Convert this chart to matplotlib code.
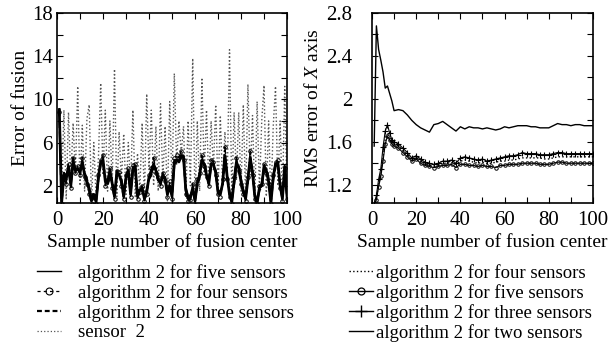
"""
Fusion error (left) and RMS error of X axis (right) vs sample number of fusion center
"""

import numpy as np
import matplotlib
matplotlib.use('Agg')
import matplotlib.pyplot as plt
from matplotlib.lines import Line2D
from matplotlib.ticker import MultipleLocator, FixedLocator, FixedFormatter

plt.rcParams['font.family'] = ['Liberation Serif', 'DejaVu Serif']
plt.rcParams['mathtext.fontset'] = 'custom'
plt.rcParams['mathtext.it'] = 'Liberation Serif:italic'
plt.rcParams['mathtext.rm'] = 'Liberation Serif'

# ---- left panel data: error of fusion, samples 1..100 ----
samples_left = np.arange(1, 101)

err_five = [9.0, 0.4, 3.0, 2.6, 3.8, 2.0, 4.3, 3.4, 3.6, 3.2,
            4.2, 3.0, 2.4, 1.6, 0.6, 1.2, 0.5, 2.8, 4.2, 4.4,
            2.4, 2.2, 3.4, 2.2, 1.0, 3.2, 3.0, 2.4, 1.0, 2.8,
            3.4, 1.2, 3.6, 3.8, 1.0, 1.6, 1.8, 0.8, 1.4, 2.8,
            3.2, 4.0, 3.4, 2.6, 2.2, 3.0, 2.6, 1.2, 2.0, 1.0,
            4.2, 4.4, 4.2, 4.8, 4.6, 1.6, 0.8, 0.9, 1.8, 0.6,
            2.2, 3.0, 4.4, 4.0, 3.0, 2.2, 4.0, 4.0, 3.2, 1.4,
            1.2, 2.2, 4.8, 2.8, 1.2, 0.5, 2.4, 4.2, 3.6, 2.4,
            1.4, 0.8, 2.6, 4.6, 3.2, 1.0, 0.4, 1.8, 2.0, 3.8,
            3.4, 2.4, 0.4, 2.8, 4.0, 4.2, 2.0, 0.8, 3.8, 1.0]

err_four = [8.8, 0.3, 2.6, 2.2, 4.0, 1.8, 4.6, 3.2, 3.8, 3.0,
            4.6, 2.8, 2.2, 1.2, 0.3, 1.0, 0.3, 3.0, 4.4, 4.8,
            2.0, 2.6, 3.6, 1.8, 0.8, 3.4, 3.3, 2.0, 0.8, 3.0,
            3.6, 1.0, 3.9, 4.0, 0.8, 1.4, 2.0, 0.6, 1.2, 3.0,
            3.6, 4.6, 3.2, 2.8, 2.0, 3.2, 2.4, 1.0, 2.4, 0.8,
            4.6, 4.8, 4.6, 5.2, 4.4, 1.2, 0.6, 0.7, 2.2, 0.2,
            2.6, 3.2, 4.8, 3.8, 2.8, 2.0, 4.4, 4.2, 3.0, 1.2,
            1.0, 2.6, 5.6, 2.6, 1.0, 0.3, 2.8, 4.6, 3.4, 2.2,
            1.2, 0.6, 2.8, 5.2, 3.0, 0.8, 0.3, 2.0, 2.2, 4.0,
            3.2, 2.2, 0.3, 3.0, 4.2, 4.4, 1.8, 0.6, 3.6, 0.8]

err_three = [9.2, 0.5, 3.2, 2.8, 3.6, 2.2, 4.1, 3.6, 3.5, 3.4,
             4.0, 3.2, 2.6, 1.8, 0.8, 1.4, 0.7, 2.6, 4.0, 4.2,
             2.6, 2.0, 3.2, 2.4, 1.2, 3.0, 2.8, 2.6, 1.2, 2.6,
             3.2, 1.4, 3.4, 3.6, 1.2, 1.8, 1.6, 1.0, 1.6, 2.6,
             3.0, 3.8, 3.6, 2.4, 2.4, 2.8, 2.8, 1.4, 1.8, 1.2,
             4.0, 4.2, 4.4, 4.6, 4.8, 1.8, 1.0, 1.1, 1.6, 0.8,
             2.0, 2.8, 4.2, 4.2, 3.2, 2.4, 3.8, 3.8, 3.4, 1.6,
             1.4, 2.0, 4.6, 3.0, 1.4, 0.7, 2.2, 4.0, 3.8, 2.6,
             1.6, 1.0, 2.4, 4.4, 3.4, 1.2, 0.6, 1.6, 1.8, 3.6,
             3.6, 2.6, 0.6, 2.6, 3.8, 4.0, 2.2, 1.0, 3.4, 1.2]

err_sensor2 = [9.0, 1.0, 9.0, 0.8, 8.8, 2.5, 7.8, 3.0, 11.2, 2.0,
               7.6, 1.5, 8.2, 9.5, 0.5, 6.0, 0.8, 4.5, 11.5, 3.0,
               9.0, 1.5, 8.0, 2.0, 12.8, 1.0, 7.0, 2.5, 6.8, 1.2,
               6.0, 2.0, 9.0, 1.0, 5.0, 1.5, 7.8, 0.8, 10.5, 3.5,
               9.0, 2.0, 7.5, 1.5, 9.6, 2.5, 7.5, 0.6, 9.8, 2.0,
               12.4, 4.0, 8.0, 5.0, 7.5, 1.0, 8.0, 2.0, 13.8, 0.5,
               8.0, 1.5, 12.0, 3.0, 9.0, 2.0, 8.0, 3.5, 9.5, 1.5,
               8.5, 2.0, 7.0, 2.5, 14.6, 1.0, 8.8, 2.5, 8.8, 1.5,
               9.5, 0.8, 11.4, 3.0, 8.5, 0.6, 9.8, 1.5, 8.0, 11.3,
               1.0, 8.0, 0.5, 7.5, 11.2, 2.0, 8.0, 0.6, 11.2, 1.0]

# ---- right panel data: RMS error of X axis ----
samples_right = [1, 2, 3, 4, 5, 6, 7, 8, 9, 10,
                 12, 14, 16, 18, 20, 22, 24, 26, 28, 30,
                 32, 34, 36, 38, 40, 42, 44, 46, 48, 50,
                 52, 54, 56, 58, 60, 62, 64, 66, 68, 70,
                 72, 74, 76, 78, 80, 82, 84, 86, 88, 90,
                 92, 94, 96, 98, 100]

rms_two = [1.56, 2.68, 2.46, 2.36, 2.25, 2.10, 2.12, 2.05, 1.98, 1.89,
           1.90, 1.89, 1.85, 1.80, 1.76, 1.73, 1.71, 1.69, 1.76, 1.77,
           1.79, 1.76, 1.73, 1.70, 1.74, 1.72, 1.74, 1.73, 1.73, 1.72,
           1.73, 1.72, 1.71, 1.72, 1.74, 1.73, 1.74, 1.75, 1.75, 1.75,
           1.74, 1.74, 1.73, 1.73, 1.73, 1.75, 1.77, 1.76, 1.76, 1.75,
           1.76, 1.76, 1.75, 1.75, 1.75]

rms_three = [1.02, 1.10, 1.25, 1.35, 1.55, 1.70, 1.76, 1.68, 1.62, 1.60,
             1.58, 1.54, 1.50, 1.45, 1.47, 1.44, 1.41, 1.40, 1.39, 1.40,
             1.42, 1.42, 1.43, 1.40, 1.45, 1.46, 1.45, 1.44, 1.43, 1.44,
             1.42, 1.43, 1.44, 1.45, 1.46, 1.47, 1.47, 1.48, 1.50, 1.49,
             1.49, 1.49, 1.48, 1.48, 1.48, 1.49, 1.50, 1.50, 1.49, 1.49,
             1.49, 1.49, 1.49, 1.49, 1.49]

rms_four = [1.00, 1.08, 1.20, 1.30, 1.45, 1.62, 1.67, 1.64, 1.60, 1.58,
            1.56, 1.52, 1.48, 1.44, 1.45, 1.42, 1.40, 1.38, 1.38, 1.39,
            1.40, 1.40, 1.41, 1.39, 1.42, 1.43, 1.42, 1.41, 1.40, 1.41,
            1.40, 1.40, 1.41, 1.42, 1.42, 1.43, 1.43, 1.44, 1.45, 1.45,
            1.45, 1.45, 1.45, 1.44, 1.44, 1.45, 1.46, 1.46, 1.46, 1.46,
            1.46, 1.46, 1.46, 1.46, 1.46]

rms_five = [1.00, 1.06, 1.18, 1.28, 1.42, 1.58, 1.65, 1.62, 1.58, 1.56,
            1.54, 1.50, 1.46, 1.42, 1.44, 1.40, 1.38, 1.37, 1.36, 1.37,
            1.38, 1.38, 1.39, 1.36, 1.39, 1.39, 1.38, 1.38, 1.37, 1.38,
            1.37, 1.37, 1.36, 1.38, 1.38, 1.39, 1.39, 1.39, 1.40, 1.40,
            1.40, 1.40, 1.39, 1.39, 1.39, 1.40, 1.41, 1.41, 1.40, 1.40,
            1.40, 1.40, 1.40, 1.40, 1.40]

left_ticks = [2, 6, 10, 14, 18]
right_ticks = [1.2, 1.6, 2.0, 2.4, 2.8]
right_tick_labels = ['1.2', '1.6', '2', '2.4', '2.8']

TICK_FS = 15
LABEL_FS = 14
LEG_FS = 13.5

fig = plt.figure(figsize=(6.09, 3.54), dpi=100)
ax1 = fig.add_axes([0.0936, 0.4266, 0.3777, 0.5367])
ax2 = fig.add_axes([0.6108, 0.4266, 0.3629, 0.5367])

# Left panel
ax1.plot(samples_left, err_sensor2, linestyle=':', color='#555555', linewidth=1.0, zorder=1)
ax1.plot(samples_left, err_three, linestyle='--', color='black', linewidth=1.6, zorder=2)
ax1.plot(samples_left, err_four, linestyle='-.', color='black', linewidth=1.0,
         marker='o', markersize=2.5, markerfacecolor='none', markeredgewidth=0.7, zorder=3)
ax1.plot(samples_left, err_five, linestyle='-', color='black', linewidth=2.0, zorder=4)
ax1.set_xlim(0, 100)
ax1.set_ylim(0.4, 18)
ax1.yaxis.set_major_locator(FixedLocator(left_ticks))
ax1.yaxis.set_minor_locator(FixedLocator([4, 8, 12, 16]))
ax1.tick_params(axis='y', which='major', pad=3)
ax1.set_ylabel('Error of fusion', fontsize=LABEL_FS, labelpad=2)

# Right panel
ax2.plot(samples_right, rms_two, linestyle='-', color='black', linewidth=1.0)
ax2.plot(samples_right, rms_three, linestyle='-', color='black', linewidth=0.8,
         marker='+', markersize=4, markeredgewidth=0.8)
ax2.plot(samples_right, rms_four, linestyle=':', color='black', linewidth=1.0)
ax2.plot(samples_right, rms_five, linestyle='-', color='black', linewidth=0.8,
         marker='o', markersize=2.5, markerfacecolor='none', markeredgewidth=0.7)
ax2.set_xlim(0, 100)
ax2.set_ylim(1.03, 2.8)
ax2.yaxis.set_major_locator(FixedLocator(right_ticks))
ax2.yaxis.set_major_formatter(FixedFormatter(right_tick_labels))
ax2.yaxis.set_minor_locator(FixedLocator([1.4, 1.8, 2.2, 2.6]))
ax2.tick_params(axis='y', which='major', pad=14)
ax2.set_ylabel('RMS error of $\\mathit{X}$ axis', fontsize=LABEL_FS, labelpad=3)

for ax in (ax1, ax2):
    ax.xaxis.set_major_locator(MultipleLocator(20))
    ax.xaxis.set_minor_locator(MultipleLocator(10))
    ax.tick_params(which='both', direction='in', top=True, right=True,
                   labelsize=TICK_FS, width=0.8)
    ax.tick_params(which='major', length=4)
    ax.tick_params(which='minor', length=4)
    ax.tick_params(axis='x', which='major', pad=6)
    ax.set_xlabel('Sample number of fusion center', fontsize=LABEL_FS, labelpad=2)
    for sp in ax.spines.values():
        sp.set_linewidth(1.2)

# Legend proxies (thin strokes, one marker in the middle)
leg_left = [
    Line2D([], [], color='black', linestyle='-', linewidth=1.0),
    Line2D([], [], color='black', linestyle=(0, (2.5, 2.5)), linewidth=0.9,
           marker='o', markersize=5, markerfacecolor='none', markeredgewidth=0.8),
    Line2D([], [], color='black', linestyle=(0, (2.2, 1.3)), linewidth=1.6),
    Line2D([], [], color='#555555', linestyle=':', linewidth=0.9),
]
fig.legend(leg_left,
           ['algorithm 2 for five sensors', 'algorithm 2 for four sensors',
            'algorithm 2 for three sensors', 'sensor  2'],
           loc='upper left', bbox_to_anchor=(0.060, 0.255), frameon=False,
           fontsize=LEG_FS, handlelength=1.3, handletextpad=0.9, numpoints=1,
           labelspacing=0.12, borderpad=0, borderaxespad=0)

leg_right = [
    Line2D([], [], color='black', linestyle=':', linewidth=1.0),
    Line2D([], [], color='black', linestyle='-', linewidth=1.0,
           marker='o', markersize=5, markerfacecolor='none', markeredgewidth=0.9),
    Line2D([], [], color='black', linestyle='-', linewidth=1.0,
           marker='+', markersize=8, markeredgewidth=1.0),
    Line2D([], [], color='black', linestyle='-', linewidth=1.0),
]
fig.legend(leg_right,
           ['algorithm 2 for four sensors', 'algorithm 2 for five sensors',
            'algorithm 2 for three sensors', 'algorithm 2 for two sensors'],
           loc='upper left', bbox_to_anchor=(0.573, 0.255), frameon=False,
           fontsize=LEG_FS, handlelength=1.3, handletextpad=0.15, numpoints=1,
           labelspacing=0.12, borderpad=0, borderaxespad=0)

fig.savefig('out.png', dpi=100)
